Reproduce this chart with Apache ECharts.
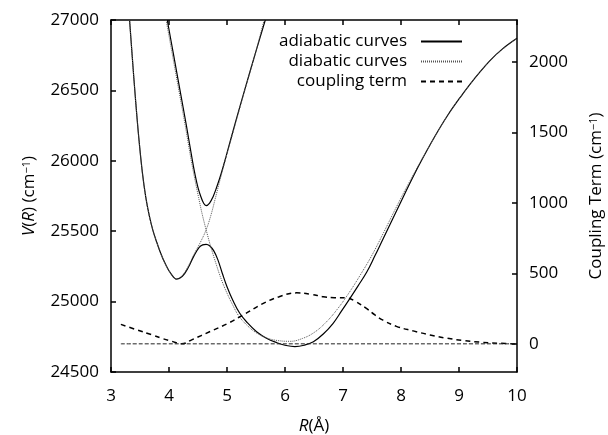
<!DOCTYPE html>
<html>
<head>
<meta charset="utf-8">
<script src="https://cdn.jsdelivr.net/npm/echarts@6/dist/echarts.min.js"></script>
<style>
  html, body { margin: 0; padding: 0; background: #fff; }
  #chart { width: 608px; height: 435px; }
</style>
</head>
<body>
<div id="chart"></div>
<script>
// R (Å), V (cm-1) 读图估计
var adiabaticLower = [
  [3.32, 27000], [3.37, 26720], [3.42, 26450], [3.48, 26160], [3.54, 25920],
  [3.6, 25740], [3.66, 25610], [3.72, 25510], [3.79, 25420], [3.86, 25340],
  [3.94, 25265], [4.03, 25200], [4.13, 25160], [4.23, 25180], [4.33, 25240],
  [4.43, 25325], [4.52, 25385], [4.58, 25403], [4.64, 25407], [4.7, 25397],
  [4.77, 25362], [4.84, 25300], [4.92, 25200], [5.0, 25106], [5.1, 25010],
  [5.22, 24917], [5.35, 24850], [5.51, 24786], [5.68, 24740], [5.86, 24708],
  [6.0, 24690], [6.17, 24680], [6.33, 24690], [6.49, 24715], [6.66, 24770],
  [6.83, 24846], [6.97, 24930], [7.12, 25023], [7.26, 25112], [7.41, 25210],
  [7.55, 25325], [7.69, 25445], [7.86, 25590], [8.03, 25735], [8.2, 25880],
  [8.39, 26030], [8.6, 26185], [8.8, 26320], [9.02, 26450], [9.25, 26575],
  [9.53, 26710], [9.75, 26795], [10, 26870]
];
var adiabaticUpper = [
  [3.97, 27000], [4.08, 26750], [4.19, 26500], [4.3, 26250], [4.4, 26010],
  [4.45, 25900], [4.5, 25810], [4.55, 25745], [4.6, 25697], [4.64, 25682],
  [4.7, 25700], [4.76, 25745], [4.82, 25810], [4.9, 25910], [4.99, 26040],
  [5.15, 26280], [5.32, 26525], [5.49, 26765], [5.66, 27000]
];
var diabatic1 = [
  [3.95, 27000], [4.06, 26750], [4.17, 26500], [4.28, 26250], [4.38, 26010],
  [4.45, 25860], [4.51, 25740], [4.57, 25625], [4.64, 25510], [4.72, 25390],
  [4.81, 25270], [4.9, 25160], [5.0, 25060], [5.1, 24975], [5.2, 24900],
  [5.35, 24830], [5.5, 24780], [5.7, 24740], [5.9, 24722], [6.09, 24718],
  [6.3, 24738], [6.5, 24780], [6.7, 24850], [6.9, 24945], [7.1, 25060],
  [7.3, 25190], [7.5, 25330], [7.7, 25490], [7.9, 25655], [8.1, 25815],
  [8.4, 26040], [8.8, 26320], [9.02, 26450], [9.53, 26710], [10, 26870]
];
var diabatic2 = [
  [3.32, 27000], [3.37, 26720], [3.42, 26450], [3.48, 26160], [3.54, 25920],
  [3.6, 25740], [3.66, 25610], [3.72, 25510], [3.79, 25420], [3.86, 25340],
  [3.94, 25265], [4.03, 25200], [4.13, 25160], [4.23, 25185], [4.33, 25250],
  [4.43, 25335], [4.54, 25420], [4.64, 25510], [4.72, 25610], [4.8, 25735],
  [4.88, 25865], [4.98, 26020], [5.15, 26270], [5.32, 26520], [5.49, 26765],
  [5.64, 27000]
];
// 耦合项 (cm-1)，右轴
var coupling = [
  [3.17, 138], [3.44, 100], [3.7, 65], [3.9, 36], [4.05, 18], [4.22, 0],
  [4.4, 30], [4.71, 88], [5.0, 142], [5.3, 210], [5.6, 282], [5.9, 335],
  [6.2, 362], [6.45, 352], [6.66, 335], [6.85, 328], [7.06, 326], [7.2, 305],
  [7.41, 250], [7.55, 205], [7.69, 168], [7.92, 124], [8.21, 92], [8.5, 63],
  [8.79, 40], [9.07, 24], [9.36, 12], [9.7, 4], [10, 0]
];
var zeroLine = [[3.17, 0], [10, 0]];
var rightTicks = [0, 500, 1000, 1500, 2000];
var legendNames = ["adiabatic curves", "diabatic curves", "coupling term"];

var font = "Open Sans";
var chart = echarts.init(document.getElementById("chart"));

var axisLine = { show: true, onZero: false, lineStyle: { color: "#000", width: 1.5 } };
var axisTick = { show: true, inside: true, length: 5, lineStyle: { color: "#000", width: 1.5 } };
var rich = {
  i: { fontStyle: "italic", fontFamily: font, fontSize: 17, color: "#000" },
  sup: { fontSize: 11, fontFamily: font, color: "#000", verticalAlign: "top" }
};
function plain(v) {
  return String(v);
}

function line(name, data, style, yIdx) {
  return {
    name: name,
    type: "line",
    data: data,
    yAxisIndex: yIdx || 0,
    symbol: "none",
    smooth: 0.4,
    animation: false,
    itemStyle: { color: style.color },
    lineStyle: style,
    z: 3
  };
}

var option = {
  animation: false,
  grid: { left: 111, right: 91, top: 20, bottom: 63, containLabel: false, outerBoundsMode: "none" },
  legend: {
    data: legendNames,
    orient: "vertical",
    align: "right",
    right: 145,
    top: 33,
    padding: 0,
    itemWidth: 41,
    itemHeight: 14,
    itemGap: 3,
    itemStyle: { opacity: 0 },
    textStyle: { fontFamily: font, fontSize: 17, color: "#000", padding: [0, 9, 0, 0] }
  },
  xAxis: [
    {
      type: "value",
      min: 3,
      max: 10,
      interval: 1,
      name: "{i|R}(Å)",
      nameLocation: "middle",
      nameGap: 46,
      nameTextStyle: { fontFamily: font, fontSize: 17, color: "#000", rich: rich },
      axisLine: axisLine,
      axisTick: axisTick,
      axisLabel: { fontFamily: font, fontSize: 17, color: "#000", margin: 16, formatter: plain },
      splitLine: { show: false }
    },
    {
      type: "value",
      position: "top",
      min: 3,
      max: 10,
      interval: 1,
      axisLine: axisLine,
      axisTick: axisTick,
      axisLabel: { show: false },
      splitLine: { show: false }
    }
  ],
  yAxis: [
    {
      type: "value",
      min: 24500,
      max: 27000,
      interval: 500,
      name: "{i|V}({i|R}) (cm{sup|−1})",
      nameLocation: "middle",
      nameRotate: 90,
      nameGap: 73,
      nameTextStyle: { fontFamily: font, fontSize: 17, color: "#000", rich: rich },
      axisLine: axisLine,
      axisTick: axisTick,
      axisLabel: { fontFamily: font, fontSize: 17, color: "#000", margin: 12, formatter: plain },
      splitLine: { show: false }
    },
    {
      type: "value",
      position: "right",
      min: -200,
      max: 2300,
      name: "Coupling Term (cm{sup|−1})",
      nameLocation: "middle",
      nameRotate: 90,
      nameGap: 71,
      nameTextStyle: { fontFamily: font, fontSize: 17, color: "#000", rich: rich },
      axisLine: axisLine,
      axisTick: Object.assign({}, axisTick, { customValues: rightTicks }),
      axisLabel: { fontFamily: font, fontSize: 17, color: "#000", margin: 12, customValues: rightTicks, formatter: plain },
      splitLine: { show: false }
    }
  ],
  series: [
    line("adiabatic curves", adiabaticLower, { color: "#000", width: 1.2, type: "solid" }),
    line("adiabatic curves", adiabaticUpper, { color: "#000", width: 1.2, type: "solid" }),
    line("diabatic curves", diabatic1, { color: "#555", width: 1, type: [1, 1] }),
    line("diabatic curves", diabatic2, { color: "#555", width: 1, type: [1, 1] }),
    line("coupling term", coupling, { color: "#000", width: 1.5, type: [5, 4] }, 1),
    line("zero", zeroLine, { color: "#222", width: 1, type: [4, 2] }, 1)
  ]
};
option && chart.setOption(option);
</script>
</body>
</html>
